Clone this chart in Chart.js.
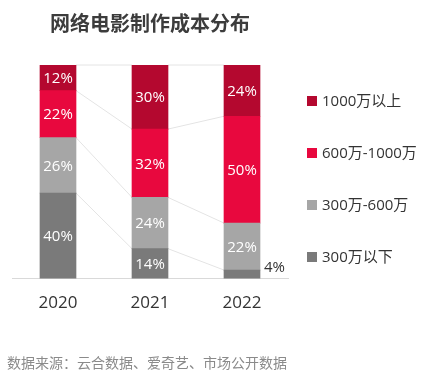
<!DOCTYPE html>
<html>
<head>
<meta charset="utf-8">
<script src="https://cdn.jsdelivr.net/npm/chart.js@4.4.1/dist/chart.umd.min.js"></script>
<style>
  body { margin: 0; background: #fff; }
  #wrap { position: relative; width: 433px; height: 375px; overflow: hidden; }
  #legend { position: absolute; left: 307px; top: 0; margin: 0; padding: 0; list-style: none; }
  #legend li {
    position: absolute; left: 0; white-space: nowrap;
    font: 15px "Open Sans", "Noto Sans CJK SC", sans-serif; color: #333;
    line-height: 20px; height: 20px;
  }
  #legend span.box { display: inline-block; width: 10px; height: 10px; margin-right: 5px; vertical-align: -0px; }
  #source {
    position: absolute; left: 7px; top: 352px;
    font: 14px "Noto Sans CJK SC", sans-serif; color: #8a8a8a; line-height: 20px;
  }
</style>
</head>
<body>
<div id="wrap">
  <canvas id="costChart" width="433" height="375"></canvas>
  <ul id="legend"></ul>
  <div id="source">数据来源：云合数据、爱奇艺、市场公开数据</div>
</div>
<script>
// --- data (percent of films per budget band) ---
const years = ["2020", "2021", "2022"];
const seriesNames = ["300万以下", "300万-600万", "600万-1000万", "1000万以上"];
const below300 = [40, 14, 4];
const from300to600 = [26, 24, 22];
const from600to1000 = [22, 32, 50];
const above1000 = [12, 30, 24];
const seriesColors = ["#7A7A7A", "#A6A6A6", "#E8083E", "#B4082F"];

const FONT_NUM = '"Open Sans", "Noto Sans CJK SC", sans-serif';

/**
 * Helper: faint lines joining the segment boundaries of neighbouring bars
 */
const connectorPlugin = {
  id: "connectors",
  beforeDatasetsDraw(chart) {
    const ctx = chart.ctx;
    ctx.save();
    ctx.strokeStyle = "#e4e4e4";
    ctx.lineWidth = 1;
    chart.data.datasets.forEach((ds, i) => {
      const meta = chart.getDatasetMeta(i);
      for (let j = 0; j < meta.data.length - 1; j++) {
        const a = meta.data[j];
        const b = meta.data[j + 1];
        ctx.beginPath();
        ctx.moveTo(a.x + a.width / 2, a.y);
        ctx.lineTo(b.x - b.width / 2, b.y);
        ctx.stroke();
      }
    });
    ctx.restore();
  },
};

/**
 * Helper: percentage labels inside the segments (outside when too thin)
 */
const valueLabelPlugin = {
  id: "valueLabels",
  afterDatasetsDraw(chart) {
    const ctx = chart.ctx;
    ctx.save();
    ctx.font = "15px " + FONT_NUM;
    ctx.textBaseline = "middle";
    chart.data.datasets.forEach((ds, i) => {
      const meta = chart.getDatasetMeta(i);
      meta.data.forEach((bar, j) => {
        const text = ds.data[j] + "%";
        const h = Math.abs(bar.base - bar.y);
        if (h < 18) {
          ctx.fillStyle = "#333";
          ctx.textAlign = "left";
          ctx.fillText(text, bar.x + bar.width / 2 + 4, bar.y - 2);
        } else {
          ctx.fillStyle = "#fff";
          ctx.textAlign = "center";
          ctx.fillText(text, bar.x, (bar.y + bar.base) / 2 + 1);
        }
      });
    });
    ctx.restore();
  },
};

const seriesValues = [below300, from300to600, from600to1000, above1000];

const chart = new Chart(document.getElementById("costChart"), {
  type: "bar",
  data: {
    labels: years,
    datasets: seriesNames.map((name, i) => ({
      label: name,
      data: seriesValues[i],
      backgroundColor: seriesColors[i],
      borderWidth: 0,
      barThickness: 36,
    })),
  },
  options: {
    responsive: false,
    animation: false,
    layout: { padding: { left: 12, right: 145, top: 0, bottom: 48 } },
    plugins: {
      legend: { display: false },
      tooltip: { enabled: false },
      title: {
        display: true,
        text: "网络电影制作成本分布",
        fullSize: false,
        color: "#3c3c3c",
        font: { family: '"Noto Sans CJK SC", sans-serif', size: 20, weight: "bold", lineHeight: 1.2 },
        padding: { top: 11, bottom: 30 },
      },
    },
    scales: {
      x: {
        stacked: true,
        grid: { display: false, drawTicks: false },
        border: { display: true, color: "#d9d9d9", width: 1 },
        ticks: { color: "#333", padding: 14, font: { family: FONT_NUM, size: 17 } },
      },
      y: {
        stacked: true,
        display: false,
        min: 0,
        max: 100,
      },
    },
  },
  plugins: [connectorPlugin, valueLabelPlugin],
});

// HTML legend, top item = last dataset
const legendEl = document.getElementById("legend");
chart.data.datasets.slice().reverse().forEach((ds, k) => {
  const li = document.createElement("li");
  li.style.top = (100 + k * 52 - 10) + "px";
  li.innerHTML = '<span class="box" style="background:' + ds.backgroundColor + '"></span>' + ds.label;
  legendEl.appendChild(li);
});
</script>
</body>
</html>
